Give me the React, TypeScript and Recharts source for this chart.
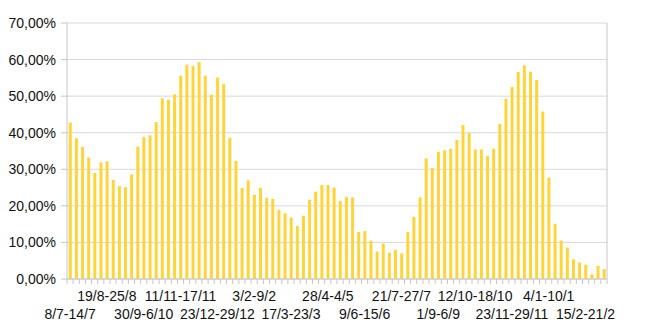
import React from 'react';
import { BarChart, Bar, XAxis, YAxis, CartesianGrid } from 'recharts';

// weekly share, in percent
const weeklyShare = [
  42.8, 38.5, 36.1, 33.2, 29.0, 31.9, 32.2, 27.1, 25.4, 25.1, 28.6, 36.2,
  38.8, 39.3, 42.9, 49.4, 49.0, 50.5, 55.6, 58.6, 58.2, 59.3, 55.6, 50.4,
  55.1, 53.3, 38.6, 32.3, 24.9, 27.0, 23.0, 24.9, 22.2, 21.9, 18.9, 18.0,
  16.8, 14.5, 17.3, 21.7, 23.9, 25.7, 25.7, 25.0, 21.3, 22.5, 22.3, 12.9,
  13.1, 10.5, 7.5, 9.7, 7.2, 8.0, 7.0, 12.9, 17.0, 22.3, 33.0, 30.4,
  34.8, 35.2, 35.6, 38.0, 42.1, 39.9, 35.4, 35.4, 33.6, 35.6, 42.4, 49.3,
  52.5, 56.6, 58.4, 56.7, 54.4, 45.8, 27.7, 15.1, 10.5, 8.6, 5.4, 4.5,
  3.9, 1.3, 3.6, 2.7,
];

// every sixth week carries a label
const tickLabels = [
  '8/7-14/7', '19/8-25/8', '30/9-6/10', '11/11-17/11', '23/12-29/12',
  '3/2-9/2', '17/3-23/3', '28/4-4/5', '9/6-15/6', '21/7-27/7', '1/9-6/9',
  '12/10-18/10', '23/11-29/11', '4/1-10/1', '15/2-21/2',
];
const labelStep = 6;

const yTicks = [0, 10, 20, 30, 40, 50, 60, 70];

const data = weeklyShare.map((v, i) => ({
  week: i % labelStep === 0 ? tickLabels[i / labelStep] ?? '' : '',
  share: v,
}));

const WIDTH = 650;
const HEIGHT = 328;
const LEFT = 67;
const RIGHT = 43;
const PLOT_W = WIDTH - LEFT - RIGHT;
const HALF_BAND = PLOT_W / weeklyShare.length / 2;

const FONT = '"Liberation Sans", Arial, sans-serif';
const AXIS = '#C6C6C6';

const fmtPct = (v: number) => `${v.toFixed(2).replace('.', ',')}%`;

const XTick = ({ x, y, payload, index }: any) => {
  const last = index === weeklyShare.length - 1;
  const label = payload?.value;
  const upper = (index / labelStep) % 2 === 1;
  return (
    <g>
      <line x1={x - HALF_BAND} x2={x - HALF_BAND} y1={y} y2={y + 5} stroke={AXIS} />
      {last && <line x1={x + HALF_BAND} x2={x + HALF_BAND} y1={y} y2={y + 5} stroke={AXIS} />}
      {label && (
        <text
          x={x}
          y={y + (upper ? 22 : 40)}
          textAnchor="middle"
          fontSize={14}
          fontFamily={FONT}
          fill="#111"
        >
          {label}
        </text>
      )}
    </g>
  );
};

export default function App() {
  return (
    <div style={{ position: 'fixed', left: 0, top: 0, background: '#fff' }}>
      <BarChart
        width={WIDTH}
        height={HEIGHT}
        data={data}
        margin={{ top: 23, right: RIGHT - 1, left: 0, bottom: 0 }}
        barCategoryGap="29%"
      >
        <CartesianGrid vertical={false} stroke="#D9D9D9" />
        <XAxis
          dataKey="week"
          interval={0}
          height={49}
          tickSize={0}
          tickMargin={0}
          tickLine={false}
          axisLine={{ stroke: AXIS }}
          tick={<XTick />}
        />
        <YAxis
          domain={[0, 70]}
          ticks={yTicks}
          width={LEFT}
          tickSize={6}
          tickMargin={5}
          tickFormatter={fmtPct}
          tickLine={{ stroke: AXIS }}
          axisLine={{ stroke: AXIS }}
          tick={{ fontSize: 14, fontFamily: FONT, fill: '#111' }}
        />
        <YAxis
          yAxisId="edge"
          orientation="right"
          width={1}
          tick={false}
          tickLine={false}
          axisLine={{ stroke: AXIS }}
        />
        <Bar dataKey="share" fill="#FFD43A" isAnimationActive={false} />
      </BarChart>
    </div>
  );
}
